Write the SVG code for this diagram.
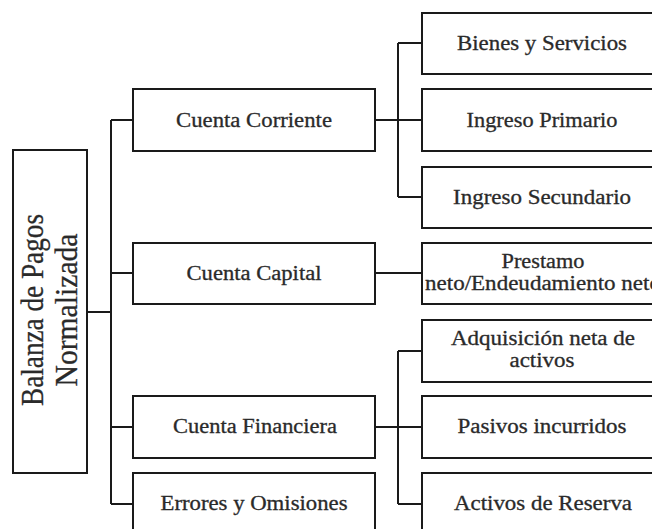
<svg xmlns="http://www.w3.org/2000/svg" width="652" height="529" viewBox="0 0 652 529">
<style>
.box{fill:#fff;stroke:#1a1a1a;stroke-width:2}
.conn{fill:none;stroke:#1a1a1a;stroke-width:2}
text{font-family:'Liberation Serif','Times New Roman',serif;fill:#2a2a2a;text-anchor:middle;stroke:#2a2a2a;stroke-width:0.3}
.t{font-size:20px}
.big{font-size:31px}
</style>
<rect width="652" height="529" fill="#fff"/>
<g id="connectors">
<path class="conn" d="M87 312H111M111 120V504M111 120H133M111 273H133M111 427H133M111 504H133"/>
<path class="conn" d="M375 120H422M398 43V197M398 43H422M398 197H422"/>
<path class="conn" d="M375 273H422"/>
<path class="conn" d="M375 427H422M398 351V504M398 351H422M398 504H422"/>
</g>
<g id="balanza">
<rect class="box" x="13" y="150" width="74" height="323"/>
<text class="big" transform="translate(43,310) rotate(-90)" textLength="192" lengthAdjust="spacingAndGlyphs">Balanza de Pagos</text>
<text class="big" transform="translate(77,310) rotate(-90)" textLength="153" lengthAdjust="spacingAndGlyphs">Normalizada</text>
</g>
<g id="cuenta-corriente">
<rect class="box" x="133" y="89" width="242" height="62"/>
<text class="t" x="254" y="127" textLength="156" lengthAdjust="spacingAndGlyphs">Cuenta Corriente</text>
</g>
<g id="cuenta-capital">
<rect class="box" x="133" y="243" width="242" height="61"/>
<text class="t" x="254" y="280" textLength="135" lengthAdjust="spacingAndGlyphs">Cuenta Capital</text>
</g>
<g id="cuenta-financiera">
<rect class="box" x="133" y="396" width="242" height="62"/>
<text class="t" x="255" y="433" textLength="164" lengthAdjust="spacingAndGlyphs">Cuenta Financiera</text>
</g>
<g id="errores">
<rect class="box" x="133" y="473" width="242" height="64"/>
<text class="t" x="254" y="510" textLength="187" lengthAdjust="spacingAndGlyphs">Errores y Omisiones</text>
</g>
<g id="bienes">
<rect class="box" x="422" y="13" width="242" height="61"/>
<text class="t" x="542" y="50" textLength="170" lengthAdjust="spacingAndGlyphs">Bienes y Servicios</text>
</g>
<g id="ingreso-primario">
<rect class="box" x="422" y="89" width="242" height="62"/>
<text class="t" x="542" y="127" textLength="151" lengthAdjust="spacingAndGlyphs">Ingreso Primario</text>
</g>
<g id="ingreso-secundario">
<rect class="box" x="422" y="167" width="242" height="61"/>
<text class="t" x="542" y="204" textLength="178" lengthAdjust="spacingAndGlyphs">Ingreso Secundario</text>
</g>
<g id="prestamo">
<rect class="box" x="422" y="243" width="242" height="61"/>
<text class="t" x="543" y="268" textLength="83" lengthAdjust="spacingAndGlyphs">Prestamo</text>
<text class="t" x="543" y="290" textLength="236" lengthAdjust="spacingAndGlyphs">neto/Endeudamiento  neto</text>
</g>
<g id="adquisicion">
<rect class="box" x="422" y="320" width="242" height="62"/>
<text class="t" x="543" y="345" textLength="184" lengthAdjust="spacingAndGlyphs">Adquisición neta de</text>
<text class="t" x="542" y="367" textLength="65" lengthAdjust="spacingAndGlyphs">activos</text>
</g>
<g id="pasivos">
<rect class="box" x="422" y="396" width="242" height="62"/>
<text class="t" x="542" y="433" textLength="169" lengthAdjust="spacingAndGlyphs">Pasivos incurridos</text>
</g>
<g id="activos-reserva">
<rect class="box" x="422" y="473" width="242" height="64"/>
<text class="t" x="543" y="510" textLength="178" lengthAdjust="spacingAndGlyphs">Activos de Reserva</text>
</g>
</svg>
